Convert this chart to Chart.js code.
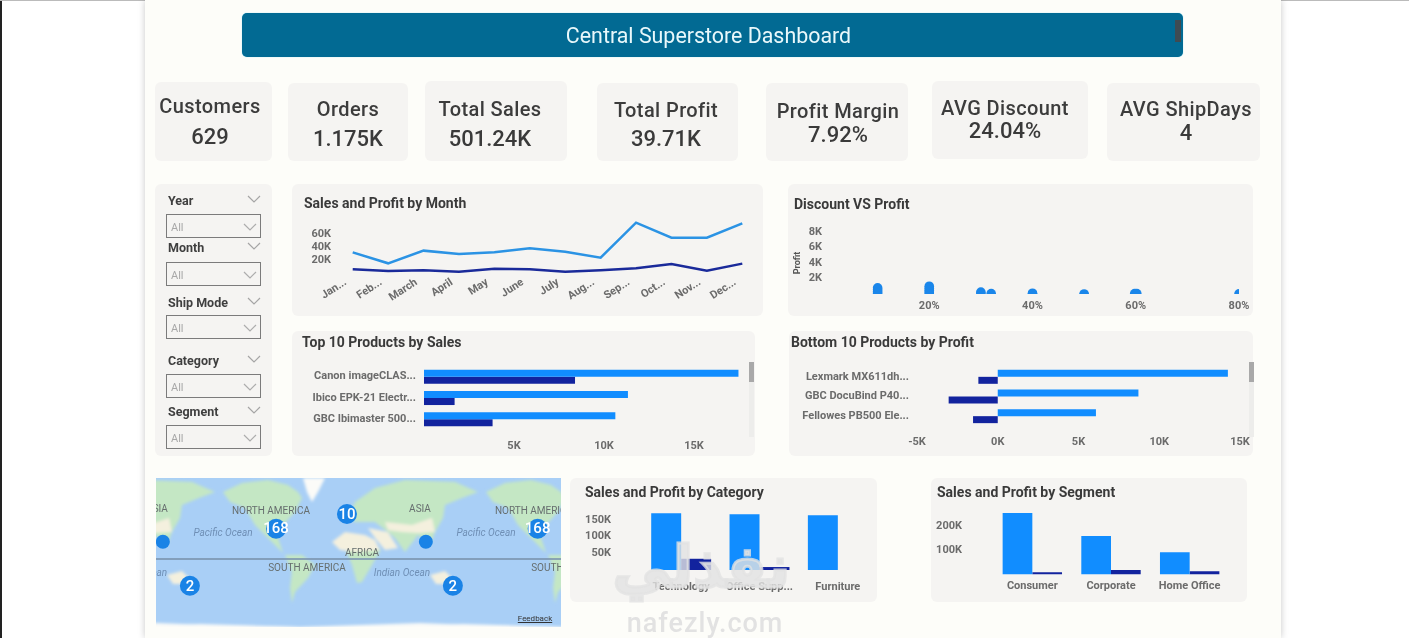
<!DOCTYPE html>
<html>
<head>
<meta charset="utf-8">
<script src="https://cdn.jsdelivr.net/npm/chart.js@4"></script>
<style>
html,body{margin:0;padding:0;background:#fff;overflow:hidden}
#page{position:relative;width:1409px;height:638px;overflow:hidden;font-family:Roboto,sans-serif;filter:blur(.35px)}
#page div{position:absolute}
.card{background:#f5f4f2;border-radius:6px}
.title{font-weight:700;font-size:14px;color:#3a3a3a;white-space:nowrap;line-height:16px}
.kpi{font-size:20px;font-weight:500;color:#3c3c3c;letter-spacing:.4px;white-space:nowrap;transform:translateX(-50%);line-height:24px}
.val{font-size:22px;font-weight:500;color:#3a3a3a;white-space:nowrap;transform:translateX(-50%);line-height:24px}
.slab{font-weight:700;font-size:12.5px;color:#3f3f3f;line-height:14px}
.sbox{border:1.5px solid #7b7b7b;box-sizing:border-box}
.all{font-size:11px;color:#a8a8a8;line-height:12px}
.mlab{white-space:nowrap;font-size:10px;color:#666e6e;transform:translate(-50%,-50%);line-height:12px}
canvas{position:absolute;left:0;top:0}
svg{position:absolute}
</style>
</head>
<body>
<div id="page">
  <div style="left:0;top:0;width:2px;height:638px;background:#222"></div>
  <div style="left:0;top:0;width:1409px;height:1px;background:#bbb"></div>
  <div style="left:145px;top:0;width:1136px;height:638px;background:#fdfdf9;box-shadow:0 0 7px rgba(0,0,0,.22)"></div>
  <div style="left:242px;top:13px;width:941px;height:44px;background:#026a93;border-radius:5px;box-shadow:0 0 1px #6fd0ee"></div>
  <div style="left:242px;top:13px;width:933px;height:44px;line-height:46px;text-align:center;color:#e9f8fb;font-size:21.4px;white-space:nowrap">Central Superstore Dashboard</div>
  <div style="left:1175px;top:20px;width:6px;height:22px;background:#3f4b52"></div>
</div>

<script>
// kpi tiles
const kpiNames = ['Customers', 'Orders', 'Total Sales', 'Total Profit', 'Profit Margin', 'AVG Discount', 'AVG ShipDays'];
const kpiValues = ['629', '1.175K', '501.24K', '39.71K', '7.92%', '24.04%', '4'];

// slicers
const slicerNames = ['Year', 'Month', 'Ship Mode', 'Category', 'Segment'];

// sales and profit by month, in thousands
const months = ['Jan...', 'Feb...', 'March', 'April', 'May', 'June', 'July', 'Aug...', 'Sep...', 'Oct...', 'Nov...', 'Dec...'];
const monthSales = [31.8, 14.9, 34.4, 29.2, 31.8, 37.9, 32.8, 23.6, 77.4, 54.4, 54.4, 76.4];
const monthProfit = [5.6, 3.1, 4.1, 2.1, 6.7, 5.6, 2.1, 4.1, 7.2, 13.8, 3.6, 14.4];
const monthTicks = [20, 40, 60];

// discount vs profit, discount in %, profit in thousands
const discountPct = [10, 10, 10, 10, 20, 20, 20, 20, 20, 30, 30, 32, 40, 40, 50, 50, 59.8, 60.2, 80];
const discountProfit = [0.8, 0.55, 0.3, 0.05, 1.0, 0.75, 0.5, 0.25, 0, 0.25, 0, 0.05, 0.1, 0, 0, -0.1, 0.05, 0.05, 0.02];
const discountXTicks = [20, 40, 60, 80];
const discountYTicks = [2, 4, 6, 8];

// top 10 products, only three rows are visible
const topProducts = ['Canon imageCLAS...', 'Ibico EPK-21 Electr...', 'GBC Ibimaster 500...'];
const topSales = [17.47, 11.33, 10.63];
const topProfit = [8.39, 1.7, 3.81];
const topTicks = [5, 10, 15];

// bottom 10 products
const bottomProducts = ['Lexmark MX611dh...', 'GBC DocuBind P40...', 'Fellowes PB500 Ele...'];
const bottomSales = [14.25, 8.71, 6.08];
const bottomProfit = [-1.2, -3.04, -1.53];
const bottomTicks = [-5, 0, 5, 10, 15];

// category
const categories = ['Technology', 'Office Supp...', 'Furniture'];
const categorySales = [170, 167, 164];
const categoryProfit = [33.7, 8.9, -2.9];
const categoryTicks = [50, 100, 150];

// segment
const segments = ['Consumer', 'Corporate', 'Home Office'];
const segmentSales = [253, 158, 91];
const segmentProfit = [9, 18.5, 13];
const segmentTicks = [100, 200];

// map clusters, longitude wraps round so the same place shows twice
const clusterLon = [-97, 261, 0, 108, -252, 145, -215];
const clusterLat = [41.5, 41.5, 61.6, 23.7, 23.7, -36.6, -36.6];
const clusterCount = ['168', '168', '10', '', '', '2', '2'];

const salesBlue = '#118dff';
const profitBlue = '#12239e';
const axisGrey = '#6b6b6b';
const page = document.getElementById('page');

function el(cls, left, top, w, h, html) {
  const d = document.createElement('div');
  d.className = cls;
  d.style.left = left + 'px';
  d.style.top = top + 'px';
  if (w != null) d.style.width = w + 'px';
  if (h != null) d.style.height = h + 'px';
  if (html != null) d.innerHTML = html;
  page.appendChild(d);
  return d;
}
function box(l, t, r, b) { return el('card', l, t, r - l, b - t); }

// kpi tiles layout
const kpiCards = [[155,82,272,161],[288,83,408,161],[425,81,567,161],[597,83,738,161],[766,83,908,161],[932,81,1088,159],[1107,83,1260,161]];
const kpiCenter = [210, 348, 490, 666, 838, 1005, 1186];
const kpiLabelY = [94, 97, 97, 98, 99, 96, 97];
const kpiValueY = [125, 127, 127, 127, 123, 119, 121];
kpiNames.forEach(function (n, i) {
  box.apply(null, kpiCards[i]);
  el('kpi', kpiCenter[i], kpiLabelY[i], null, null, n);
  el('val', kpiCenter[i], kpiValueY[i], null, null, kpiValues[i]);
});

function chevron(x, y, col) {
  const s = document.createElementNS('http://www.w3.org/2000/svg', 'svg');
  s.setAttribute('width', 14); s.setAttribute('height', 8);
  s.style.left = (x - 7) + 'px'; s.style.top = (y - 4) + 'px';
  s.innerHTML = '<polyline points="1,1 7,7 13,1" fill="none" stroke="' + col + '" stroke-width="1.2"/>';
  page.appendChild(s);
}

// slicer panel
box(155, 184, 272, 456);
const slicerLabelY = [194, 241, 296, 354, 405];
const slicerBoxY = [214, 262, 315, 374, 425];
slicerNames.forEach(function (n, i) {
  el('slab', 168, slicerLabelY[i], null, null, n);
  chevron(254, slicerLabelY[i] + 5, '#a5a5a5');
  el('sbox', 166, slicerBoxY[i], 95, 24);
  el('all', 171, slicerBoxY[i] + 8, null, null, 'All');
  chevron(250, slicerBoxY[i] + 13, '#adadad');
});

// chart cards
const cardMonth = {l: 292, t: 184, r: 763, b: 316};
const cardDiscount = {l: 788, t: 184, r: 1253, b: 316};
const cardTop = {l: 292, t: 331, r: 755, b: 456};
const cardBottom = {l: 789, t: 331, r: 1253, b: 456};
const cardCategory = {l: 570, t: 478, r: 877, b: 602};
const cardSegment = {l: 931, t: 478, r: 1247, b: 602};

function titled(c, text, x, y) {
  box(c.l, c.t, c.r, c.b);
  el('title', x, y - 8, null, null, text);
}
titled(cardMonth, 'Sales and Profit by Month', 304, 203);
titled(cardDiscount, 'Discount VS Profit', 794, 204);
titled(cardTop, 'Top 10 Products by Sales', 302, 342);
titled(cardBottom, 'Bottom 10 Products by Profit', 791, 342);
titled(cardCategory, 'Sales and Profit by Category', 585, 492);
titled(cardSegment, 'Sales and Profit by Segment', 937, 492);

// scrollbars of the two product lists
[[749, 362, 437], [1249, 362, 437]].forEach(function (s) {
  el('', s[0], s[1], 5, s[2] - s[1]).style.background = '#ededeb';
  el('', s[0], s[1], 5, 20).style.background = '#a9a9a9';
});

// chart goes over its whole card, plot area is pinned by the axis sizes
function place(card, plot, cfg) {
  const holder = el('', card.l, card.t, card.r - card.l, card.b - card.t);
  const cv = document.createElement('canvas');
  cv.width = card.r - card.l;
  cv.height = card.b - card.t;
  holder.appendChild(cv);
  const o = cfg.options;
  o.responsive = false;
  o.animation = false;
  o.layout = {autoPadding: false, padding: {top: plot.t - card.t, right: card.r - plot.r, left: 0, bottom: 0}};
  o.plugins = Object.assign({legend: {display: false}, tooltip: {enabled: false}}, o.plugins);
  o.scales.x.afterFit = function (s) { s.height = card.b - plot.b; s.paddingLeft = 0; s.paddingRight = 0; };
  o.scales.y.afterFit = function (s) { s.width = plot.l - card.l; s.paddingTop = 0; s.paddingBottom = 0; };
  return new Chart(cv, cfg);
}

const tickFont = {family: 'Roboto', size: 11, weight: '700'};
function valueAxis(min, max, vals, pad, suffix) {
  return {
    type: 'linear', min: min, max: max,
    grid: {display: false, drawTicks: false}, border: {display: false},
    afterBuildTicks: function (s) { s.ticks = vals.map(function (v) { return {value: v}; }); },
    ticks: {padding: pad, color: axisGrey, font: tickFont, autoSkip: false, maxRotation: 0,
      callback: function (v) { return v + (suffix || 'K'); }}
  };
}
function catAxis(pad, rot, shift) {
  return {
    type: 'category', offset: true, grid: {display: false, drawTicks: false}, border: {display: false},
    ticks: {padding: pad, color: axisGrey, font: tickFont, autoSkip: false, minRotation: rot || 0, maxRotation: rot || 0, labelOffset: shift || 0}
  };
}

place(cardMonth, {l: 335, r: 760, t: 221, b: 273}, {
  type: 'line',
  data: {labels: months, datasets: [
    {data: monthSales, borderColor: '#2b93e4', borderWidth: 2.5, pointRadius: 0, tension: 0},
    {data: monthProfit, borderColor: '#1a2a9a', borderWidth: 2.5, pointRadius: 0, tension: 0}
  ]},
  options: {scales: {x: catAxis(3, 33, -7), y: valueAxis(0, 80, monthTicks, 4)}}
});

const discountY = valueAxis(0, 8, discountYTicks, 4);
discountY.title = {display: true, text: 'Profit', color: '#555', font: {family: 'Roboto', size: 9, weight: '700'}, padding: {top: 4, bottom: 0}};
place(cardDiscount, {l: 826, r: 1239, t: 232, b: 294}, {
  type: 'scatter',
  data: {datasets: [{
    data: discountPct.map(function (d, i) { return {x: d, y: discountProfit[i]}; }),
    backgroundColor: '#1a86ea', borderWidth: 0, pointRadius: 4.8, clip: 0
  }]},
  options: {scales: {x: valueAxis(0, 80, discountXTicks, 6, '%'), y: discountY}}
});

function barSets(sales, profit, pct) {
  return [
    {data: sales, backgroundColor: salesBlue, categoryPercentage: pct, barPercentage: 1},
    {data: profit, backgroundColor: profitBlue, categoryPercentage: pct, barPercentage: 1}
  ];
}

place(cardTop, {l: 424, r: 739, t: 366, b: 430}, {
  type: 'bar',
  data: {labels: topProducts, datasets: barSets(topSales, topProfit, 0.66)},
  options: {indexAxis: 'y', scales: {x: valueAxis(0, 17.5, topTicks, 10), y: catAxis(8)}}
});

place(cardBottom, {l: 917, r: 1240, t: 367, b: 426}, {
  type: 'bar',
  data: {labels: bottomProducts, datasets: barSets(bottomSales, bottomProfit, 0.71)},
  options: {indexAxis: 'y', scales: {x: valueAxis(-5, 15, bottomTicks, 10), y: catAxis(8)}}
});

place(cardCategory, {l: 642, r: 877, t: 510, b: 570}, {
  type: 'bar',
  data: {labels: categories, datasets: barSets(categorySales, categoryProfit, 0.765)},
  options: {scales: {x: catAxis(11), y: valueAxis(0, 180, categoryTicks, 31)}}
});

place(cardSegment, {l: 993, r: 1229, t: 510, b: 574.5}, {
  type: 'bar',
  data: {labels: segments, datasets: barSets(segmentSales, segmentProfit, 0.755)},
  options: {scales: {x: catAxis(5), y: valueAxis(0, 265, segmentTicks, 31)}}
});

// base map, world drawn three times because it wraps, svg units are page pixels
const mapBox = {l: 156, t: 478, r: 561, b: 627};
const mapDiv = el('', mapBox.l, mapBox.t, mapBox.r - mapBox.l, mapBox.b - mapBox.t);
mapDiv.style.overflow = 'hidden';
mapDiv.style.background = '#a9cff6';
const green = '#c4e7c4', cream = '#f4f0de', ice = '#fbfbf8';
function land(fill, pts) { return '<polygon fill="' + fill + '" points="' + pts + '"/>'; }
mapDiv.innerHTML =
  '<svg width="405" height="149" viewBox="156 478 405 149" style="left:0;top:0">' +
  '<defs><filter id="soft"><feGaussianBlur stdDeviation="1.5"/></filter><g id="world">' +
  land(green, '223,492 242,483 268,480 288,485 298,492 302,498 295,512 283,525 278,538 283,553 270,540 255,525 245,508 230,502') +
  land(green, '285,555 302,555 315,565 308,578 295,592 292,603 290,588 292,572') +
  land(ice, '303,478 325,478 318,492 312,502 307,492') +
  land(green, '349,518 355,502 375,488 405,480 455,482 478,492 462,498 445,505 443,518 435,532 430,545 418,535 405,552 395,538 388,532 375,522 355,522') +
  land(cream, '385,522 412,525 432,518 435,532 418,533 402,532 388,530') +
  land(cream, '368,528 388,532 398,548 385,550 375,538') +
  land(green, '345,548 381,549 372,565 362,582 357,583 352,565') +
  land(cream, '332,542 345,532 365,535 375,540 380,550 355,552 340,550') +
  land(cream, '430,575 445,571 452,578 448,584 436,584') +
  land(ice, '156,626 200,624 300,627 360,625 420,623 470,625 561,627 561,640 156,640') +
  '</g></defs>' +
  '<g filter="url(#soft)"><use href="#world" x="-263"/><use href="#world"/><use href="#world" x="263"/></g>' +
  '<rect x="156" y="558.2" width="405" height="1.6" fill="#7b93ad"/>' +
  '</svg>';

const mapLabels = [
  ['NORTH AMERICA', 271, 511], ['NORTH AMERICA', 534, 511], ['ASIA', 420, 509], ['ASIA', 157, 509],
  ['AFRICA', 362, 553], ['SOUTH AMERICA', 307, 568], ['SOUTH AMERICA', 570, 568]
];
mapLabels.forEach(function (m) {
  mapDiv.appendChild(el('mlab', m[1] - mapBox.l, m[2] - mapBox.t, null, null, m[0]));
});
[['Pacific Ocean', 223, 533], ['Pacific Ocean', 486, 533], ['Indian Ocean', 402, 573], ['Indian Ocean', 139, 573]].forEach(function (m) {
  const d = el('mlab', m[1] - mapBox.l, m[2] - mapBox.t, null, null, m[0]);
  d.style.fontStyle = 'italic';
  d.style.color = '#6f8fb5';
  mapDiv.appendChild(d);
});
const feedback = el('mlab', 535 - mapBox.l, 619 - mapBox.t, null, null, 'Feedback');
feedback.style.cssText += 'font-size:8px;color:#333;text-decoration:underline';
mapDiv.appendChild(feedback);

const mapCanvas = document.createElement('canvas');
mapCanvas.width = mapBox.r - mapBox.l;
mapCanvas.height = mapBox.b - mapBox.t;
mapDiv.appendChild(mapCanvas);
new Chart(mapCanvas, {
  type: 'scatter',
  data: {datasets: [{
    data: clusterLon.map(function (x, i) { return {x: x, y: clusterLat[i]}; }),
    backgroundColor: '#1a83e6', borderWidth: 0,
    pointRadius: function (c) { return clusterCount[c.dataIndex] ? 10 : 7; }
  }]},
  options: {
    responsive: false, animation: false,
    layout: {autoPadding: false},
    plugins: {legend: {display: false}, tooltip: {enabled: false}},
    scales: {
      x: {display: false, min: -261.4, max: 293},
      y: {display: false, min: -93, max: 110.9}
    }
  },
  plugins: [{
    id: 'clusterLabels',
    afterDatasetsDraw: function (chart) {
      const ctx = chart.ctx;
      ctx.save();
      ctx.fillStyle = '#fff';
      ctx.font = '500 15px Roboto';
      ctx.textAlign = 'center';
      ctx.textBaseline = 'middle';
      chart.getDatasetMeta(0).data.forEach(function (p, i) {
        ctx.fillText(clusterCount[i], p.x, p.y + 1);
      });
      ctx.restore();
    }
  }]
});

// watermark sits on top of everything
const wm = el('', 620, 532, 170, 70, 'نفذلي');
wm.style.cssText += 'font:700 58px "DejaVu Sans",sans-serif;-webkit-text-stroke:3px rgba(226,226,226,.8);color:rgba(226,226,226,.8);direction:rtl;text-align:center;line-height:70px;white-space:nowrap';
const wm2 = el('', 620, 608, 170, 30, 'nafezly.com');
wm2.style.cssText += 'font-size:27px;font-weight:500;color:#e2e2e2;text-align:center;line-height:30px;letter-spacing:1px;white-space:nowrap';
</script>
</body>
</html>
